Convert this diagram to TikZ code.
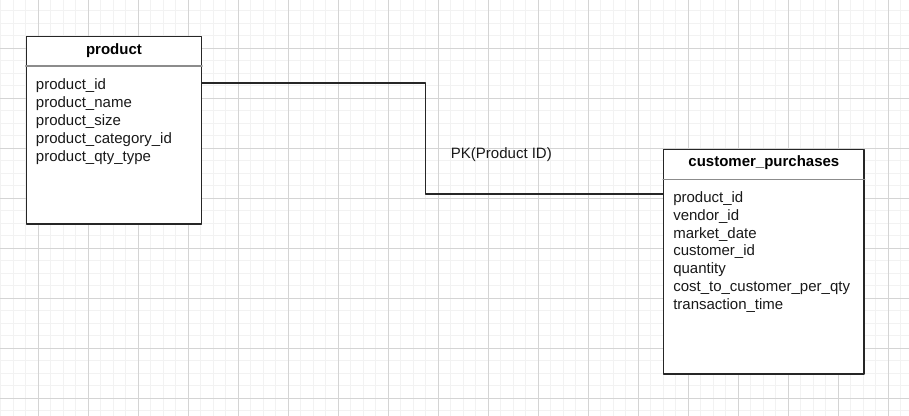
\documentclass[tikz,border=0pt]{standalone}
\usepackage{fontspec}
\setmainfont{Liberation Sans}
\def\px{0.75pt}
\begin{document}
\begin{tikzpicture}[x=0.75pt, y=-0.75pt, line join=round, line cap=round,
	minorgrid/.style={draw=black!5, line width=0.75pt},
	majorgrid/.style={draw=black!17, line width=0.75pt},
	tbl/.style={draw=black!85, line width=1.1pt, fill=white, inner sep=0pt, anchor=north west},
	tblsep/.style={draw=black!45, line width=0.8pt},
	hdr/.style={font=\fontsize{11.25}{13.5}\selectfont\bfseries, anchor=base, inner sep=0pt},
	fld/.style={font=\fontsize{11.25}{13.5}\selectfont, text=black!90, anchor=base west, inner sep=0pt},
	link/.style={draw=black!85, line width=1.1pt}]
	\useasboundingbox (0,0) rectangle (909,416);
	%% luoi nen
	\fill[white] (0,0) rectangle (909,416);
	\foreach \k in {0,...,72}
	\draw[minorgrid] (0.8+12.5*\k,0) -- (0.8+12.5*\k,416);
	\foreach \k in {0,...,32}
	\draw[minorgrid] (0,10.8+12.5*\k) -- (909,10.8+12.5*\k);
	\foreach \k in {0,...,17}
	\draw[majorgrid] (38.3+50*\k,0) -- (38.3+50*\k,416);
	\foreach \k in {0,...,7}
	\draw[majorgrid] (0,48.3+50*\k) -- (909,48.3+50*\k);
	
	%% bang product
	\node[tbl, minimum width=175*\px, minimum height=187.5*\px] (product) at (25.7,36) {};
	\draw[tblsep] ([yshift=-30*\px]product.north west) -- ([yshift=-30*\px]product.north east);
	\node[hdr] (producthdr) at ([yshift=-19*\px]product.north) {product};
	\foreach \f [count=\i] in {product\_id,product\_name,product\_size,product\_category\_id,product\_qty\_type}
	\node[fld] (pf\i) at ([xshift=10*\px, yshift={-(53.5+18*(\i-1))*\px}]product.north west) {\f};
	
	%% bang customer_purchases
	\node[tbl, minimum width=200.3*\px, minimum height=224.3*\px] (purchases) at (663,149) {};
	\draw[tblsep] ([yshift=-30.3*\px]purchases.north west) -- ([yshift=-30.3*\px]purchases.north east);
	\node[hdr] (purchaseshdr) at ([yshift=-17.7*\px]purchases.north) {customer\_purchases};
	\foreach \f [count=\i] in {product\_id,vendor\_id,market\_date,customer\_id,quantity,cost\_to\_customer\_per\_qty,transaction\_time}
	\node[fld] (cf\i) at ([xshift=10*\px, yshift={-(53.5+17.8*(\i-1))*\px}]purchases.north west) {\f};
	
	%% duong noi
	\path 
	([yshift=-47*\px]product.north east) coordinate (pkstart)
	(425.7,83) coordinate (kneeA)
	(425.7,194) coordinate (kneeB)
	;
	\draw[link] (pkstart) -- (kneeA) -- (kneeB) -- (purchases.west |- kneeB);
	\node[fld] (pklabel) at (450.7,158.3) {PK(Product ID)};
	
\end{tikzpicture}
\end{document}
